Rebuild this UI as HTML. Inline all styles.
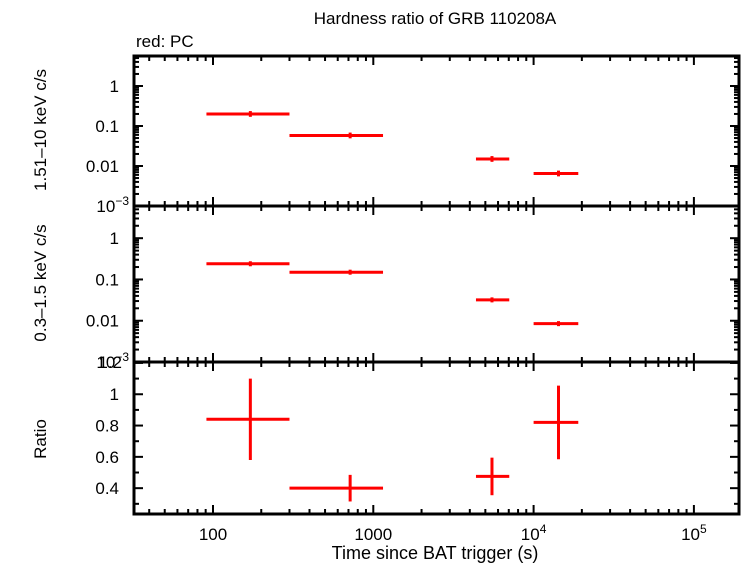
<!DOCTYPE html>
<html><head><meta charset="utf-8"><style>
body{margin:0;background:#fff}
svg{display:block;font-family:"Liberation Sans",sans-serif}
</style></head><body>
<svg id="c" width="742" height="566" xmlns="http://www.w3.org/2000/svg">
<text x="435" y="24" font-size="17" text-anchor="middle">Hardness ratio of GRB 110208A</text>
<text x="136" y="47" font-size="17">red: PC</text>
<text x="435" y="559" font-size="18" text-anchor="middle">Time since BAT trigger (s)</text>
<text transform="translate(46,130) rotate(-90)" font-size="17" text-anchor="middle">1.51–10 keV c/s</text>
<text transform="translate(46,283) rotate(-90)" font-size="17" text-anchor="middle">0.3–1.5 keV c/s</text>
<text transform="translate(46,439) rotate(-90)" font-size="17" text-anchor="middle">Ratio</text>
<g id="g"></g>
</svg>
<script>
const binLo=[91,300,4370,10000];
const binHi=[300,1150,7050,19000];
const binMid=[171,717,5500,14300];
const hardVal=[0.2,0.058,0.015,0.0065];
const softVal=[0.24,0.15,0.032,0.0085];
const ratioVal=[0.84,0.40,0.475,0.82];
const ratioErr=[0.26,0.085,0.12,0.235];
const xTickLabels=["100","1000","10|4","10|5"];
const xTickVals=[100,1000,10000,100000];
const logTickLabels=["1","0.1","0.01"];
const logTickVals=[1,0.1,0.01];
const ratioTickVals=[0.4,0.6,0.8,1];
const ratioTickLabels=["0.4","0.6","0.8","1"];

const NS="http://www.w3.org/2000/svg";
const g=document.getElementById('g');
const L=134,R=739;
const xs=v=>213+(Math.log10(v)-2)*160.3;
const P=[{t:56,b:206,lo:-3,hi:0.75},{t:206,b:362,lo:-3,hi:0.78},{t:362,b:514,lo:0.235,hi:1.206}];
const ylog=(p,v)=>p.b-(Math.log10(v)-p.lo)/(p.hi-p.lo)*(p.b-p.t);
const ylin=(p,v)=>p.b-(v-p.lo)/(p.hi-p.lo)*(p.b-p.t);
function el(tag,a,txt){const e=document.createElementNS(NS,tag);for(const k in a)e.setAttribute(k,a[k]);if(txt!==undefined)e.textContent=txt;g.appendChild(e);return e;}
function line(x1,y1,x2,y2,c,w){return el('line',{x1,y1,x2,y2,stroke:c,'stroke-width':w});}
function supText(x,y,anchor,lab){
  const parts=lab.split('|');
  const t=el('text',{x,y,'font-size':17,'text-anchor':anchor});
  const a=document.createElementNS(NS,'tspan');a.textContent=parts[0];t.appendChild(a);
  if(parts[1]){const b=document.createElementNS(NS,'tspan');b.setAttribute('font-size','12');b.setAttribute('dy','-7');b.textContent=parts[1];t.appendChild(b);}
  return t;
}

P.forEach((p,i)=>{
  const r=el('rect',{x:L,y:p.t,width:R-L,height:p.b-p.t,fill:'none',stroke:'#000','stroke-width':3});
  
  
  for(let d=1;d<=5;d++)for(let m=1;m<10;m++){
    const v=m*Math.pow(10,d);const x=xs(v);if(x<L||x>R)continue;
    const len=m===1?9:5;
    line(x,p.t,x,p.t+len,'#000',2);line(x,p.b,x,p.b-len,'#000',2);
  }
  if(i<2){
    for(let d=-3;d<=0;d++)for(let m=1;m<10;m++){
      const v=m*Math.pow(10,d);const y=ylog(p,v);if(y<p.t||y>p.b)continue;
      const len=m===1?9:5;
      line(L,y,L+len,y,'#000',2);line(R,y,R-len,y,'#000',2);
    }
    logTickVals.forEach((v,k)=>{const t=el('text',{x:L-15,y:ylog(p,v)+6,'font-size':17,'text-anchor':'end'},logTickLabels[k]);
      });
    const t=supText(L-5,p.b+6,'end','10|−3');
    
  } else {
    for(let v=0.3;v<1.21;v+=0.1){const y=ylin(p,v);const len=(Math.round(v*10)%2===0)?9:5;
      line(L,y,L+len,y,'#000',2);line(R,y,R-len,y,'#000',2);}
    ratioTickVals.forEach((v,k)=>{const t=el('text',{x:L-15,y:ylin(p,v)+6,'font-size':17,'text-anchor':'end'},ratioTickLabels[k]);
      });
    const t=el('text',{x:L-12,y:p.t+6,'font-size':17,'text-anchor':'end'},'1.2');
    
    xTickVals.forEach((v,k)=>{const t=supText(xs(v),540,'middle',xTickLabels[k]);
      });
  }
});
function pt(p,i,y,ylo,yhi,name){
  const a=line(xs(binLo[i]),y,xs(binHi[i]),y,'#f00',3);
  
  
  const b=line(xs(binMid[i]),ylo,xs(binMid[i]),yhi,'#f00',3);
  
  
}
hardVal.forEach((v,i)=>pt(P[0],i,ylog(P[0],v),ylog(P[0],v*1.18),ylog(P[0],v/1.18),'hard-point'));
softVal.forEach((v,i)=>pt(P[1],i,ylog(P[1],v),ylog(P[1],v*1.15),ylog(P[1],v/1.15),'soft-point'));
ratioVal.forEach((v,i)=>pt(P[2],i,ylin(P[2],v),ylin(P[2],v+ratioErr[i]),ylin(P[2],v-ratioErr[i]),'ratio-point'));
</script>
</body></html>
